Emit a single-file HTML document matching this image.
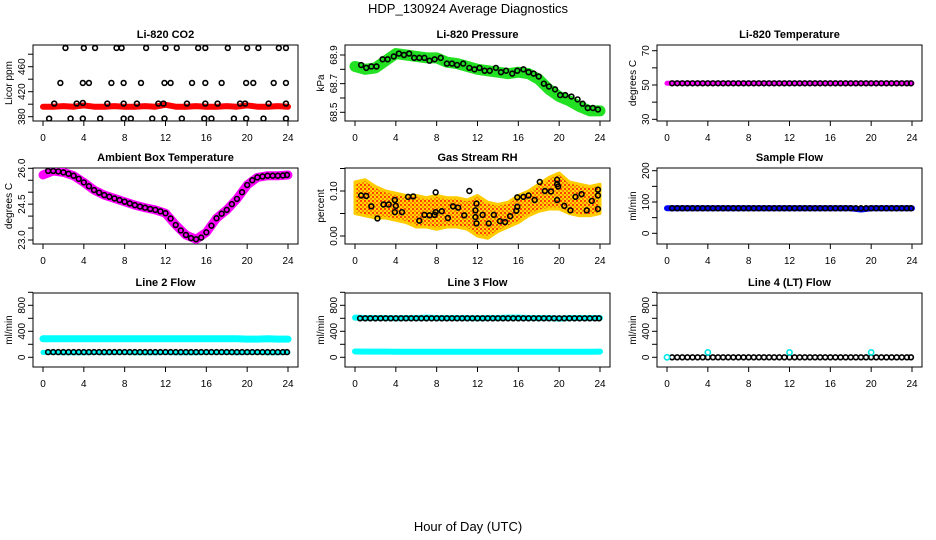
<!DOCTYPE html>
<html><head><meta charset="utf-8">
<style>
body{margin:0;background:#fff;}
svg{display:block;font-family:"Liberation Sans",sans-serif;}
.tl{font-size:10px;fill:#000;}
.tt{font-size:11px;font-weight:bold;fill:#000;}
</style></head><body>
<svg id="chart" width="936" height="540" viewBox="0 0 936 540">
<text x="468" y="13" text-anchor="middle" font-size="13">HDP_130924  Average Diagnostics</text>
<text x="468" y="531" text-anchor="middle" font-size="13">Hour of Day (UTC)</text>
</svg>
<script>
// ---- data ----
const hours = [0,1,2,3,4,5,6,7,8,9,10,11,12,13,14,15,16,17,18,19,20,21,22,23,24];
const halfHours = [0.5,1,1.5,2,2.5,3,3.5,4,4.5,5,5.5,6,6.5,7,7.5,8,8.5,9,9.5,10,10.5,11,11.5,12,12.5,13,13.5,14,14.5,15,15.5,16,16.5,17,17.5,18,18.5,19,19.5,20,20.5,21,21.5,22,22.5,23,23.5,23.9];
const xTicks = [0,4,8,12,16,20,24];

const co2Red = [396,396,397,396,398,396,396,397,396,396,397,396,399,396,396,397,396,396,397,396,398,396,396,397,396];
const co2BlackHours = [2.2,4,5.1,7.2,7.7,10.1,12,13.1,15.2,15.9,18.1,20,21.1,23.1,23.8, 1.7,3.9,4.5,6.7,7.9,9.6,11.9,12.5,14.6,15.9,17.5,19.9,20.6,22.6,23.8, 1.1,3.3,3.9,6.3,7.9,9.2,11.3,11.8,14.1,15.9,17.1,19.3,19.8,22.1,23.8, 0.6,2.7,3.9,5.6,7.9,8.6,10.7,11.9,13.6,15.8,16.5,18.7,19.9,21.6,23.8];
const co2BlackVals = [490,490,490,490,490,490,490,490,490,490,490,490,490,490,490, 434,434,434,434,434,434,434,434,434,434,434,434,434,434,434, 401,401,402,401,401,401,401,401,401,401,401,401,401,401,401, 377,377,377,377,377,377,377,377,377,377,377,377,377,377,377];

const presGreen = [68.82,68.80,68.81,68.86,68.91,68.90,68.89,68.88,68.88,68.85,68.84,68.82,68.80,68.79,68.78,68.77,68.78,68.77,68.73,68.66,68.61,68.58,68.54,68.51,68.51];
const presBlackHours = [0.6,1.1,1.6,2.1,2.7,3.2,3.8,4.3,4.8,5.3,5.8,6.3,6.8,7.3,7.8,8.4,9,9.5,10,10.6,11.2,11.7,12.2,12.7,13.2,13.8,14.3,14.8,15.4,15.9,16.5,17,17.5,18,18.5,19,19.6,20.1,20.6,21.2,21.8,22.3,22.8,23.3,23.8];
const presBlackVals = [68.83,68.81,68.82,68.82,68.87,68.87,68.89,68.91,68.90,68.91,68.88,68.88,68.88,68.86,68.87,68.88,68.84,68.84,68.83,68.84,68.81,68.80,68.81,68.79,68.79,68.81,68.78,68.79,68.77,68.79,68.80,68.78,68.77,68.75,68.70,68.68,68.66,68.62,68.62,68.61,68.59,68.56,68.53,68.53,68.52];

const tempMag = [51,51,51,51,51,51,51,51,51,51,51,51,51,51,51,51,51,51,51,51,51,51,51,51,51];
const tempBlack = [51,51,51,51,51,51,51,51,51,51,51,51,51,51,51,51,51,51,51,51,51,51,51,51,51,51,51,51,51,51,51,51,51,51,51,51,51,51,51,51,51,51,51,51,51,51,51,51];

const ambMag = [25.72,25.89,25.83,25.69,25.41,25.09,24.88,24.74,24.60,24.46,24.35,24.26,24.12,23.63,23.21,23.03,23.32,23.91,24.26,24.72,25.30,25.62,25.69,25.69,25.72];
const ambBlack = [25.89,25.89,25.87,25.83,25.77,25.69,25.56,25.41,25.25,25.09,24.98,24.88,24.81,24.74,24.67,24.60,24.53,24.46,24.40,24.35,24.30,24.26,24.2,24.12,23.9,23.63,23.4,23.21,23.08,23.03,23.1,23.32,23.6,23.91,24.1,24.26,24.5,24.72,25.0,25.30,25.5,25.62,25.66,25.69,25.69,25.69,25.7,25.72];

const rhUpper = [0.12,0.125,0.11,0.1,0.095,0.09,0.09,0.085,0.09,0.085,0.085,0.08,0.09,0.075,0.07,0.075,0.09,0.1,0.115,0.13,0.14,0.12,0.115,0.11,0.115];
const rhLower = [0.05,0.045,0.04,0.04,0.035,0.03,0.02,0.02,0.015,0.02,0.02,0.015,0.0,-0.005,0.01,0.02,0.03,0.045,0.055,0.06,0.06,0.05,0.045,0.045,0.05];
const rhBlackHours = [0.6,1.1,1.6,2.2,2.8,3.3,3.9,3.9,4,4.6,5.2,5.7,6.3,6.8,7.3,7.8,7.9,7.9,8.5,9.1,9.6,10.1,10.7,11.2,11.8,11.8,11.9,11.9,12.5,13.1,13.6,14.2,14.7,15.2,15.8,15.9,15.9,16.5,17,17.6,18.1,18.6,19.2,19.8,19.8,19.8,19.9,20.5,21.1,21.6,22.2,22.7,23.2,23.8,23.8,23.8];
const rhBlackVals = [0.09,0.089,0.066,0.039,0.07,0.07,0.08,0.053,0.067,0.053,0.087,0.088,0.034,0.047,0.046,0.047,0.097,0.053,0.055,0.04,0.066,0.063,0.046,0.1,0.057,0.042,0.072,0.028,0.047,0.028,0.047,0.033,0.031,0.044,0.056,0.065,0.086,0.087,0.09,0.08,0.12,0.1,0.099,0.08,0.115,0.125,0.11,0.067,0.057,0.087,0.093,0.057,0.078,0.06,0.09,0.103];

const sampBlue = [80,80,80,80,80,80,80,80,80,80,80,80,80,80,80,80,80,80,80,76,80,80,80,80,80];
const sampBlack = [80,80,80,80,80,80,80,80,80,80,80,80,80,80,80,80,80,80,80,80,80,80,80,80,80,80,80,80,80,80,80,80,80,80,80,80,80,80,80,80,80,80,80,80,80,80,80,80];

const l2CyanHigh = [285,285,285,285,285,285,285,285,285,285,285,285,285,285,285,285,285,285,285,285,280,280,285,280,280];
const l2CyanLow = [75,75,70,70,70,75,70,75,75,70,70,70,75,70,70,70,75,75,75,70,75,75,70,70,75];
const l2Black = [80,80,80,80,80,80,80,80,80,80,80,80,80,80,80,80,80,80,80,80,80,80,80,80,80,80,80,80,80,80,80,80,80,80,80,80,80,80,80,80,80,80,80,80,80,80,80,80];

const l3CyanHigh = [610,605,605,605,600,605,605,610,605,605,605,605,600,605,605,610,610,605,605,605,595,605,605,605,605];
const l3CyanLow = [90,88,88,88,86,86,86,86,86,86,86,86,86,86,86,86,86,86,86,86,86,86,86,86,88];
const l3Black = [600,600,600,600,600,600,600,600,600,600,600,600,600,600,600,600,600,600,600,600,600,600,600,600,600,600,600,600,600,600,600,600,600,600,600,600,600,600,600,600,600,600,600,600,600,600,600,600];

const l4CyanHours = [0,4,12,20];
const l4CyanVals = [0,75,75,75];
const l4Black = [0,0,0,0,0,0,0,0,0,0,0,0,0,0,0,0,0,0,0,0,0,0,0,0,0,0,0,0,0,0,0,0,0,0,0,0,0,0,0,0,0,0,0,0,0,0,0,0];

// ---- drawing ----
const svg = document.getElementById('chart');
const NS = 'http://www.w3.org/2000/svg';
function mk(tag, attrs, parent){
  const e = document.createElementNS(NS, tag);
  for (const k in attrs) e.setAttribute(k, attrs[k]);
  (parent||svg).appendChild(e);
  return e;
}
const defs = mk('defs', {});
const pat = mk('pattern', {id:'rhpat', width:4, height:4, patternUnits:'userSpaceOnUse'}, defs);
mk('rect', {x:0, y:0, width:4, height:4, fill:'#ffd700'}, pat);
mk('rect', {x:0, y:0, width:2, height:2, fill:'#ff4000'}, pat);
mk('rect', {x:2, y:2, width:2, height:2, fill:'#ff8800'}, pat);

const rowsY = [[45,121],[168,244],[293,367]];
function panel(col, row, name, title, ylab, yRef, yTicks, yLabels){
  const g = mk('g', {});
  
  
  const bx0 = 33 + 312*col, bx1 = 298 + 312*col;
  const by0 = rowsY[row][0], by1 = rowsY[row][1];
  const X = h => 43 + 312*col + h*(245/24);
  const Y = v => yRef[1] + (v - yRef[0])*(yRef[3]-yRef[1])/(yRef[2]-yRef[0]);
  const box = mk('rect', {x:bx0, y:by0, width:bx1-bx0, height:by1-by0, fill:'none', stroke:'#000', 'stroke-width':1}, g);
  
  
  const t = mk('text', {x:(bx0+bx1)/2, y:by0-7, 'text-anchor':'middle', class:'tt'}, g);
  t.textContent = title;
  
  
  const yl = mk('text', {transform:`translate(${bx0-21},${(by0+by1)/2}) rotate(-90)`, 'text-anchor':'middle', class:'tl'}, g);
  yl.textContent = ylab;
  
  
  const xa = mk('g', {}, g);
  
  
  xTicks.forEach(h => {
    mk('line', {x1:X(h), x2:X(h), y1:by1, y2:by1+5, stroke:'#000'}, xa);
    const l = mk('text', {x:X(h), y:by1+20, 'text-anchor':'middle', class:'tl'}, xa);
    l.textContent = h;
  });
  const ya = mk('g', {}, g);
  
  
  yTicks.forEach((v,i) => {
    const y = Y(v);
    mk('line', {x1:bx0-5, x2:bx0, y1:y, y2:y, stroke:'#000'}, ya);
    if (yLabels[i] !== '') {
      const l = mk('text', {transform:`translate(${bx0-8},${y}) rotate(-90)`, 'text-anchor':'middle', class:'tl'}, ya);
      l.textContent = yLabels[i];
    }
  });
  const clip = mk('clipPath', {id:'clip'+col+row}, defs);
  mk('rect', {x:bx0, y:by0, width:bx1-bx0, height:by1-by0}, clip);
  const plot = mk('g', {'clip-path':`url(#clip${col}${row})`}, g);
  return {X, Y, g:plot, name};
}
function band(p, xs, vals, color, w, nm){
  const pts = xs.map((h,i) => `${p.X(h)},${p.Y(vals[i])}`).join(' ');
  const e = mk('polyline', {points:pts, fill:'none', stroke:color, 'stroke-width':w, 'stroke-linecap':'round', 'stroke-linejoin':'round'}, p.g);
  
  
}
function circles(p, xs, vals, color, nm, r){
  const g = mk('g', {}, p.g);
  
  
  xs.forEach((h,i) => {
    mk('circle', {cx:p.X(h), cy:p.Y(vals[i]), r:r||2.4, fill:'none', stroke:color, 'stroke-width':1.6}, g);
  });
}

// Panel 1: CO2
let p = panel(0,0,'co2','Li-820 CO2','Licor ppm',[380,116.7,460,66.7],[380,400,420,440,460,480],['380','','420','','460','']);
band(p, hours, co2Red, '#ff0000', 6, 'co2-red-series');
circles(p, co2BlackHours, co2BlackVals, '#000', 'co2-black-points');

// Panel 2: Pressure
p = panel(1,0,'pressure','Li-820 Pressure','kPa',[68.5,112.3,68.9,55],[68.5,68.6,68.7,68.8,68.9],['68.5','','68.7','','68.9']);
band(p, hours, presGreen, '#22e022', 11, 'pressure-green-series');
circles(p, presBlackHours, presBlackVals, '#000', 'pressure-black-points');

// Panel 3: Temperature
p = panel(2,0,'temperature','Li-820 Temperature','degrees C',[30,119.3,70,50.7],[30,40,50,60,70],['30','','50','','70']);
band(p, hours, tempMag, '#ff00ff', 5, 'temperature-magenta-series');
circles(p, halfHours, tempBlack, '#000', 'temperature-black-points');

// Panel 4: Ambient
p = panel(0,1,'ambient','Ambient Box Temperature','degrees C',[23,240,26,168.3],[23,23.5,24,24.5,25,25.5,26],['23.0','','','24.5','','','26.0']);
band(p, hours, ambMag, '#ff00ff', 9, 'ambient-magenta-series');
circles(p, halfHours, ambBlack, '#000', 'ambient-black-points');

// Panel 5: RH
p = panel(1,1,'rh','Gas Stream RH','percent',[0,236,0.1,191],[0,0.05,0.1,0.15],['0.00','','0.10','']);
{
  const up = hours.map((h,i)=>`${p.X(h)},${p.Y(rhUpper[i])}`);
  const lo = hours.slice().reverse().map((h,i)=>`${p.X(h)},${p.Y(rhLower[rhLower.length-1-i])}`);
  const e = mk('polygon', {points:up.concat(lo).join(' '), fill:'url(#rhpat)', stroke:'#ffcc00', 'stroke-width':3, 'stroke-linejoin':'round'}, p.g);
  
  
}
circles(p, rhBlackHours, rhBlackVals, '#000', 'rh-black-points');

// Panel 6: Sample Flow
p = panel(2,1,'sample-flow','Sample Flow','ml/min',[0,233.3,200,170.7],[0,50,100,150,200],['0','','100','','200']);
band(p, hours, sampBlue, '#0000ff', 6, 'sample-flow-blue-series');
circles(p, halfHours, sampBlack, '#000', 'sample-flow-black-points');

const flowTicks = [0,200,400,600,800,1000];
const flowLabels = ['0','','400','','800',''];
// Panel 7: Line 2
p = panel(0,2,'line2','Line 2 Flow','ml/min',[0,357.3,800,305.3],flowTicks,flowLabels);
band(p, hours, l2CyanHigh, '#00ffff', 7, 'line2-cyan-high-series');
band(p, hours, l2CyanLow, '#00ffff', 5, 'line2-cyan-low-series');
circles(p, halfHours, l2Black, '#000', 'line2-black-points');

// Panel 8: Line 3
p = panel(1,2,'line3','Line 3 Flow','ml/min',[0,357.3,800,305.3],flowTicks,flowLabels);
band(p, hours, l3CyanHigh, '#00ffff', 6, 'line3-cyan-high-series');
band(p, hours, l3CyanLow, '#00ffff', 6, 'line3-cyan-low-series');
circles(p, halfHours, l3Black, '#000', 'line3-black-points');

// Panel 9: Line 4
p = panel(2,2,'line4','Line 4 (LT) Flow','ml/min',[0,357.3,800,305.3],flowTicks,flowLabels);
circles(p, halfHours, l4Black, '#000', 'line4-black-points');
circles(p, l4CyanHours, l4CyanVals, '#00e8e8', 'line4-cyan-points', 2.6);
</script>
</body></html>
